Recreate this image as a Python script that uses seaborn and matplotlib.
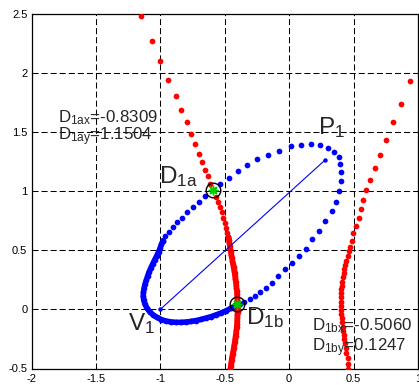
import matplotlib
matplotlib.use("Agg")
import matplotlib.pyplot as plt
import seaborn as sns
import pandas as pd

# ---- data ----
# blue ellipse: densely sampled part (left / bottom) and sparse part
ellipse_dense_x = [-0.979, -0.991, -1.002, -1.014, -1.029, -1.045, -1.060, -1.074, -1.088, -1.099, -1.109,
                   -1.119, -1.126, -1.131, -1.133, -1.129, -1.120, -1.105, -1.084, -1.057, -1.026,
                   -0.991, -0.956, -0.917, -0.878, -0.840, -0.801, -0.762, -0.723, -0.684, -0.646,
                   -0.607, -0.568, -0.529, -0.491, -0.452, -0.413, -0.382]
ellipse_dense_y = [0.581, 0.551, 0.517, 0.484, 0.450, 0.416, 0.382, 0.349, 0.315, 0.281, 0.247,
                   0.213, 0.180, 0.146, 0.112, 0.078, 0.045, 0.011, -0.019, -0.046, -0.069,
                   -0.087, -0.099, -0.106, -0.110, -0.110, -0.107, -0.102, -0.095, -0.085, -0.074,
                   -0.062, -0.047, -0.031, -0.013, 0.009, 0.035, 0.049]
ellipse_sparse_x = [-0.351, -0.305, -0.266, -0.223, -0.177, -0.132, -0.085, -0.033, 0.019, 0.075,
                    0.127, 0.178, 0.233, 0.282, 0.331, 0.367, 0.385, 0.401, 0.406, 0.395,
                    0.383, 0.349, 0.302, 0.240, 0.168, 0.088, 0.013, -0.078, -0.161, -0.247,
                    -0.324, -0.398, -0.466, -0.536, -0.594, -0.650, -0.702, -0.748, -0.791, -0.832,
                    -0.871, -0.905, -0.936, -0.960, -0.979]
ellipse_sparse_y = [0.062, 0.087, 0.116, 0.146, 0.184, 0.226, 0.281, 0.338, 0.393, 0.452,
                    0.511, 0.591, 0.665, 0.743, 0.830, 0.911, 0.996, 1.083, 1.159, 1.229,
                    1.291, 1.333, 1.367, 1.392, 1.401, 1.392, 1.378, 1.338, 1.308, 1.268,
                    1.220, 1.165, 1.112, 1.057, 1.007, 0.954, 0.907, 0.862, 0.819, 0.775,
                    0.737, 0.695, 0.657, 0.619, 0.581]

# red hyperbola, left branch: sparse upper part and dense lower part
hyp_left_sparse_x = [-1.152, -1.067, -1.000, -0.938, -0.881, -0.840, -0.793, -0.762, -0.729, -0.700,
                     -0.674, -0.651, -0.630, -0.612, -0.591, -0.571, -0.553, -0.537, -0.524, -0.512,
                     -0.498, -0.488, -0.479, -0.471]
hyp_left_sparse_y = [2.481, 2.267, 2.095, 1.941, 1.800, 1.688, 1.581, 1.484, 1.395, 1.316,
                     1.243, 1.180, 1.125, 1.062, 1.007, 0.952, 0.908, 0.866, 0.824, 0.776,
                     0.731, 0.689, 0.648, 0.610]
hyp_left_dense_x = [-0.471, -0.467, -0.464, -0.460, -0.457, -0.453, -0.449, -0.444, -0.440, -0.436, -0.432,
                    -0.427, -0.424, -0.420, -0.417, -0.414, -0.411, -0.409, -0.406, -0.405, -0.403,
                    -0.402, -0.402, -0.401, -0.401, -0.401, -0.402, -0.402, -0.404, -0.405, -0.407,
                    -0.409, -0.412, -0.416, -0.419, -0.422, -0.426, -0.430, -0.434, -0.439, -0.443,
                    -0.447, -0.450, -0.453, -0.457]
hyp_left_dense_y = [0.610, 0.585, 0.559, 0.534, 0.509, 0.484, 0.458, 0.433, 0.408, 0.382, 0.357,
                    0.332, 0.306, 0.281, 0.256, 0.230, 0.205, 0.180, 0.154, 0.129, 0.104,
                    0.078, 0.053, 0.028, 0.003, -0.023, -0.048, -0.073, -0.099, -0.124, -0.149,
                    -0.175, -0.200, -0.225, -0.251, -0.276, -0.301, -0.327, -0.352, -0.377, -0.403,
                    -0.428, -0.453, -0.478, -0.504]

# red hyperbola, right branch
hyp_right_x = [0.938, 0.866, 0.804, 0.750, 0.705, 0.667, 0.631, 0.600, 0.575, 0.558,
               0.540, 0.517, 0.498, 0.486, 0.476, 0.465, 0.455, 0.445, 0.437, 0.429,
               0.422, 0.416, 0.411, 0.409, 0.406, 0.406, 0.403, 0.403, 0.403, 0.406,
               0.406, 0.409, 0.411, 0.414, 0.419, 0.424, 0.429, 0.434, 0.440, 0.445,
               0.453, 0.457, 0.460]
hyp_right_y = [1.927, 1.735, 1.581, 1.435, 1.308, 1.195, 1.097, 1.011, 0.927, 0.844,
               0.770, 0.705, 0.641, 0.576, 0.528, 0.492, 0.450, 0.410, 0.374, 0.340,
               0.304, 0.270, 0.233, 0.199, 0.169, 0.135, 0.101, 0.064, 0.028, -0.006,
               -0.042, -0.076, -0.110, -0.147, -0.181, -0.217, -0.253, -0.287, -0.324, -0.366,
               -0.414, -0.462, -0.508]

segment_x = [-1.0, 0.277]     # V1 -> P1
segment_y = [0.0, 1.260]

cross_x = [-0.594, -0.403]    # D1a, D1b
cross_y = [1.007, 0.042]

info_a = ["D$_{1ax}$=-0.8309", "D$_{1ay}$=1.1504"]
info_b = ["D$_{1bx}$=-0.5060", "D$_{1by}$=0.1247"]

xticks = [-2, -1.5, -1, -0.5, 0, 0.5, 1]
yticks = [-0.5, 0, 0.5, 1, 1.5, 2, 2.5]
xtick_labels = ["-2", "-1.5", "-1", "-0.5", "0", "0.5", "1"]
ytick_labels = ["-0.5", "0", "0.5", "1", "1.5", "2", "2.5"]

# ---- drawing ----
sns.set_style("white")
plt.rcParams["font.family"] = ["Liberation Sans", "DejaVu Sans"]
plt.rcParams["mathtext.default"] = "regular"

fig = plt.figure(figsize=(4.19, 3.85), dpi=100)
ax = fig.add_axes([31.5 / 419, 16.5 / 385, 386.5 / 419, 355 / 385])

BLUE = "#0000ff"
RED = "#ff0000"
DOT = 17

def dense(xs, ys, color, z):
    d = pd.DataFrame({"x": xs, "y": ys})
    sns.lineplot(data=d, x="x", y="y", ax=ax, sort=False, estimator=None, color=color,
                 lw=4.0, solid_capstyle="round", solid_joinstyle="round", zorder=z)
    sns.scatterplot(data=d, x="x", y="y", ax=ax, color=color, s=DOT, linewidth=0, zorder=z)

def sparse(xs, ys, color, z):
    d = pd.DataFrame({"x": xs, "y": ys})
    sns.scatterplot(data=d, x="x", y="y", ax=ax, color=color, s=DOT, linewidth=0, zorder=z)

dense(ellipse_dense_x, ellipse_dense_y, BLUE, 3)
sparse(ellipse_sparse_x, ellipse_sparse_y, BLUE, 3)
sparse(hyp_left_sparse_x, hyp_left_sparse_y, RED, 4)
dense(hyp_left_dense_x, hyp_left_dense_y, RED, 4)
sparse(hyp_right_x, hyp_right_y, RED, 4)

ax.plot(segment_x, segment_y, color=BLUE, lw=0.8, zorder=5)
ax.plot(segment_x, segment_y, ls="none", marker="o", ms=3.2, color=BLUE, mec="none", zorder=5)

ax.plot(cross_x, cross_y, ls="none", marker=(8, 2, 0), ms=7, color="#00cc00", mew=1.0, zorder=6)
ax.plot(cross_x, cross_y, ls="none", marker="o", ms=10.5, mfc="none", mec="black", mew=1.0, zorder=7)

ax.set_xlim(-2, 1)
ax.set_ylim(-0.5, 2.5)
ax.set_xticks(xticks)
ax.set_xticklabels(xtick_labels)
ax.set_yticks(yticks)
ax.set_yticklabels(ytick_labels)
ax.set_xlabel("")
ax.set_ylabel("")
ax.tick_params(direction="in", length=3, width=0.6, labelsize=8, color="black", labelcolor="black")
ax.tick_params(axis="x", pad=4)
ax.tick_params(axis="y", pad=3)
for sp in ax.spines.values():
    sp.set_color("black")
    sp.set_linewidth(0.9)
ax.grid(True, color="black", ls=(0, (5.8, 2.9)), lw=0.75)
ax.set_axisbelow(True)

big = 17.5
ax.text(-1.008, 1.063, "D$_{1a}$", fontsize=big, va="baseline", ha="left", zorder=8)
ax.text(0.225, 1.485, "P$_1$", fontsize=big, va="baseline", ha="left", zorder=8)
ax.text(-1.248, -0.175, "V$_1$", fontsize=big, va="baseline", ha="left", zorder=8)
ax.text(-0.338, -0.124, "D$_{1b}$", fontsize=big, va="baseline", ha="left", zorder=8)

mid = 12.2
ax.text(-1.791, 1.583, info_a[0], fontsize=mid, va="baseline", ha="left", zorder=8)
ax.text(-1.791, 1.429, info_a[1], fontsize=mid, va="baseline", ha="left", zorder=8)
ax.text(0.174, -0.175, info_b[0], fontsize=mid, va="baseline", ha="left", zorder=8)
ax.text(0.174, -0.358, info_b[1], fontsize=mid, va="baseline", ha="left", zorder=8)

fig.savefig("out.png", dpi=100)
